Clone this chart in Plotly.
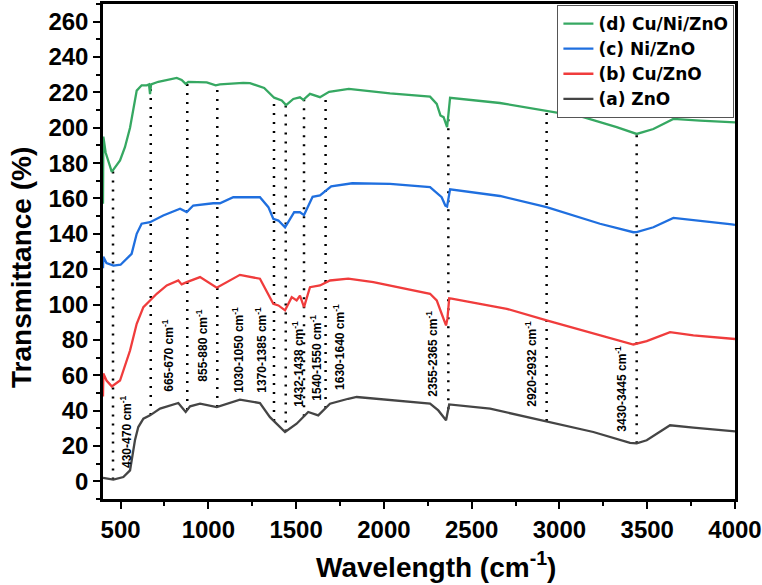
import numpy as np
import plotly.graph_objects as go

# ---------------- data ----------------
zno_wn = [400, 459, 516, 554, 582, 601, 630, 668, 725, 829, 871, 896, 953, 1048, 1180, 1294, 1351,
          1437, 1503, 1569, 1626, 1693, 1797, 1845, 2263, 2310, 2354, 2362, 2372, 2605, 2927, 3193,
          3402, 3440, 3497, 3630, 3763, 3971, 4000]
zno_t = [2, 1, 2.4, 6.2, 23.2, 30.7, 35.4, 37.3, 41.1, 44.3, 39.2, 42.4, 43.9, 42, 46.2, 44.3, 36.3,
         27.9, 32.6, 39.2, 37.3, 43.9, 46.7, 47.7, 43.9, 40.1, 34.5, 38, 43.5, 41.1, 34.1, 27.9,
         21.7, 21.5, 23.2, 31.7, 30.4, 28.4, 28.2]

cu_wn = [400, 402, 420, 450, 497, 554, 592, 630, 668, 706, 763, 829, 848, 877, 953, 1048, 1180, 1294,
         1370, 1399, 1437, 1475, 1503, 1522, 1545, 1579, 1636, 1693, 1797, 1940, 2263, 2301, 2329,
         2354, 2362, 2372, 2386, 2700, 2927, 3193, 3421, 3497, 3630, 3763, 3971, 4000]
cu_t = [48, 61, 57, 53.7, 57, 74, 89.1, 98.5, 102.3, 106.1, 110.8, 113.6, 111.4, 112.7, 115.5, 109.5,
        116.8, 114.6, 100.4, 99.5, 96.7, 104.2, 102.3, 105.1, 98.5, 109.8, 110.8, 113.6, 114.6, 112.7,
        106.1, 102.3, 94.8, 88.2, 92, 103.5, 103.3, 97.6, 91, 83.5, 77.4, 79.3, 84.4, 82.5, 80.7, 80.5]

ni_wn = [400, 402, 420, 460, 500, 525, 563, 592, 620, 668, 743, 839, 877, 914, 1028, 1066, 1142, 1294,
         1342, 1370, 1399, 1437, 1489, 1522, 1545, 1594, 1636, 1700, 1820, 2035, 2263, 2329, 2350,
         2360, 2372, 2377, 2661, 2927, 3231, 3421, 3440, 3535, 3649, 3801, 3982, 4000]
ni_t = [120.5, 127, 123.5, 122, 122.5, 125, 128.7, 140, 145.7, 146.6, 150.4, 154.2, 152.3, 156, 157.3,
        157.3, 160.7, 160.7, 155.1, 148.5, 147.5, 143.7, 152.2, 152.2, 150.6, 160.9, 161.7, 166.8,
        168.6, 168.3, 166.4, 160.7, 156, 155.5, 163, 165.2, 161.4, 155.1, 145.7, 140.9, 141, 143.7,
        149, 147.5, 145.3, 145]

cuni_wn = [400, 402, 415, 450, 497, 525, 554, 573, 592, 620, 649, 662, 668, 674, 715, 820, 848, 871,
           886, 991, 1042, 1066, 1199, 1237, 1318, 1375, 1418, 1443, 1484, 1522, 1541, 1579, 1636,
           1688, 1800, 2035, 2263, 2301, 2322, 2340, 2360, 2368, 2377, 2661, 2927, 3136, 3326, 3421,
           3440, 3535, 3649, 3801, 3982, 4000]
cuni_t = [157, 195, 186, 175, 181.5, 189, 200, 211.5, 221, 224, 224, 224.5, 219, 224.5, 226, 228.2,
          227, 224.8, 226, 225.7, 224, 224.5, 225.4, 225.2, 222.5, 217, 215.4, 212.8, 216.3, 217.2,
          215.8, 219.2, 217.3, 220.3, 222, 219.5, 217.6, 213.5, 207, 206, 200.3, 208, 216.9, 214,
          209.3, 206, 200.3, 196.9, 196.5, 199.3, 205, 204, 203.1, 203]

series_names = ["(a) ZnO", "(b) Cu/ZnO", "(c) Ni/ZnO", "(d) Cu/Ni/ZnO"]
series_colors = ["#454545", "#f03c3c", "#1f6fdf", "#36a862"]

band_pos = [457, 672, 880, 1051, 1374, 1441, 1545, 1668, 2367, 2927, 3440]
band_labels = ["430-470 cm<sup>-1</sup>", "665-670 cm<sup>-1</sup>", "855-880 cm<sup>-1</sup>",
               "1030-1050 cm<sup>-1</sup>", "1370-1385 cm<sup>-1</sup>", "1432-1438 cm<sup>-1</sup>",
               "1540-1550 cm<sup>-1</sup>", "1630-1640 cm<sup>-1</sup>", "2355-2365 cm<sup>-1</sup>",
               "2920-2932 cm<sup>-1</sup>", "3430-3445 cm<sup>-1</sup>"]
label_x = [535, 772, 963, 1171, 1302, 1513, 1615, 1747, 2276, 2840, 3353]
label_y = [28.3, 71.2, 77.2, 74.6, 74.6, 66.7, 70.1, 76.3, 72.4, 66.7, 52.6]

x_ticks = [500, 1000, 1500, 2000, 2500, 3000, 3500, 4000]
y_ticks = list(range(0, 261, 20))

x_title = "Wavelength (cm<sup>-1</sup>)"
y_title = "Transmittance (%)"

# ---------------- figure ----------------
FONT = "Liberation Sans, Arial, sans-serif"
fig = go.Figure()

# dotted marker lines from the (a) curve up to the (d) curve
for p in band_pos:
    y_low = float(np.interp(p, zno_wn, zno_t))
    y_high = float(np.interp(p, cuni_wn, cuni_t))
    fig.add_trace(go.Scatter(x=[p, p], y=[y_low, y_high], mode="lines",
                             line=dict(color="black", width=2.5, dash="2px,7px"),
                             showlegend=False, hoverinfo="skip"))

all_wn = [zno_wn, cu_wn, ni_wn, cuni_wn]
all_t = [zno_t, cu_t, ni_t, cuni_t]
for wn, t, name, col in zip(all_wn, all_t, series_names, series_colors):
    fig.add_trace(go.Scatter(x=wn, y=t, mode="lines", name=name,
                             line=dict(color=col, width=2.3)))

for lx, ly, txt in zip(label_x, label_y, band_labels):
    fig.add_annotation(x=lx, y=ly, text=txt, textangle=-90, showarrow=False,
                       xanchor="center", yanchor="middle",
                       font=dict(family=FONT, size=12, color="black", weight="bold"))

# axis titles (placed as paper-anchored text to match the original offsets)
fig.add_annotation(xref="paper", yref="paper", x=0.527, y=-0.133, text=x_title,
                   showarrow=False, xanchor="center", yanchor="middle",
                   font=dict(family=FONT, size=28, color="black", weight="bold"))
fig.add_annotation(xref="paper", yref="paper", x=-0.128, y=0.467, text=y_title,
                   textangle=-90, showarrow=False, xanchor="center", yanchor="middle",
                   font=dict(family=FONT, size=28, color="black", weight="bold"))

axis_common = dict(showgrid=False, zeroline=False, showline=True, linecolor="black",
                   linewidth=2.5, mirror=True, ticks="outside", ticklen=7, tickwidth=2,
                   tickcolor="black", automargin=False,
                   tickfont=dict(family=FONT, size=24, color="black", weight="bold"))

fig.update_layout(
    width=762, height=585,
    margin=dict(l=103, r=27, t=4, b=86),
    paper_bgcolor="white", plot_bgcolor="white",
    xaxis=dict(range=[400, 4000], tickmode="array", tickvals=x_ticks,
               minor=dict(tick0=250, dtick=250, ticks="outside", ticklen=4, tickwidth=2,
                          tickcolor="black"),
               **axis_common),
    yaxis=dict(range=[-10, 270], tickmode="array", tickvals=y_ticks,
               minor=dict(tick0=0, dtick=10, ticks="outside", ticklen=4, tickwidth=2,
                          tickcolor="black"),
               **axis_common),
    legend=dict(x=0.719, y=0.998, xanchor="left", yanchor="top", traceorder="reversed",
                bgcolor="white", bordercolor="#555555", borderwidth=1,
                font=dict(family="DejaVu Sans, sans-serif", size=17, color="black",
                          weight="bold"),
                tracegroupgap=0),
    showlegend=True,
)

fig.write_html("out.html", config={"displayModeBar": False},
               post_script="document.body.style.margin='0px';")
